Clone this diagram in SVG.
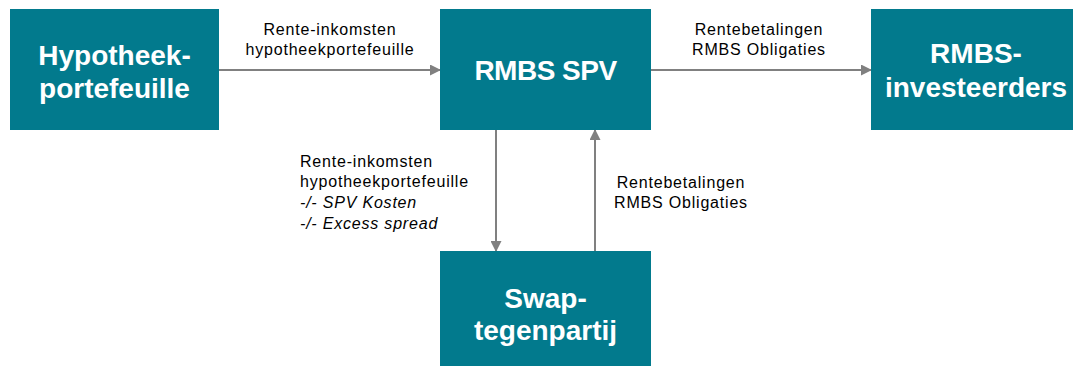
<svg xmlns="http://www.w3.org/2000/svg" width="1073" height="366" viewBox="0 0 1073 366">
<style>
.box{fill:#027A8D}
.title{font-family:"Liberation Sans",Arial,sans-serif;font-weight:bold;font-size:28px;fill:#fff;text-anchor:middle}
.lbl{font-family:"Liberation Sans",Arial,sans-serif;font-size:16px;fill:#000;letter-spacing:0.8px}
.c{text-anchor:middle}
.i{font-style:italic}
.edge{stroke:#808080;stroke-width:2;fill:none;marker-end:url(#ah)}
</style>
<defs>
<marker id="ah" markerWidth="11" markerHeight="11" refX="10" refY="5.5" orient="auto" markerUnits="userSpaceOnUse">
<path d="M0,0 L11,5.5 L0,11 Z" fill="#808080"/>
</marker>
</defs>
<rect width="1073" height="366" fill="#fff"/>
<g id="connectors">
<line class="edge" x1="219" y1="70" x2="440" y2="70"/>
<line class="edge" x1="651" y1="70" x2="871" y2="70"/>
<line class="edge" x1="496" y1="130" x2="496" y2="251"/>
<line class="edge" x1="595" y1="251" x2="595" y2="130"/>
<text class="lbl c" x="330" y="35">Rente-inkomsten</text>
<text class="lbl c" x="330" y="55">hypotheekportefeuille</text>
<text class="lbl c" x="759" y="35">Rentebetalingen</text>
<text class="lbl c" x="759" y="55">RMBS Obligaties</text>
<text class="lbl" x="300" y="167">Rente-inkomsten</text>
<text class="lbl" x="300" y="187">hypotheekportefeuille</text>
<text class="lbl i" x="300" y="208">-/- SPV Kosten</text>
<text class="lbl i" x="300" y="229">-/- Excess spread</text>
<text class="lbl c" x="681" y="188">Rentebetalingen</text>
<text class="lbl c" x="681" y="208">RMBS Obligaties</text>
</g>
<g id="hypotheek">
<rect class="box" x="10" y="9" width="209" height="121"/>
<text class="title" x="114.5" y="65">Hypotheek-</text>
<text class="title" x="114.5" y="98">portefeuille</text>
</g>
<g id="spv">
<rect class="box" x="440" y="9" width="211" height="121"/>
<text class="title" x="545.5" y="80" letter-spacing="-0.5">RMBS SPV</text>
</g>
<g id="investeerders">
<rect class="box" x="871" y="9" width="210" height="121"/>
<text class="title" x="976" y="63">RMBS-</text>
<text class="title" x="976" y="97">investeerders</text>
</g>
<g id="swap">
<rect class="box" x="440" y="251" width="211" height="121"/>
<text class="title" x="545.5" y="308">Swap-</text>
<text class="title" x="545.5" y="340">tegenpartij</text>
</g>
</svg>
